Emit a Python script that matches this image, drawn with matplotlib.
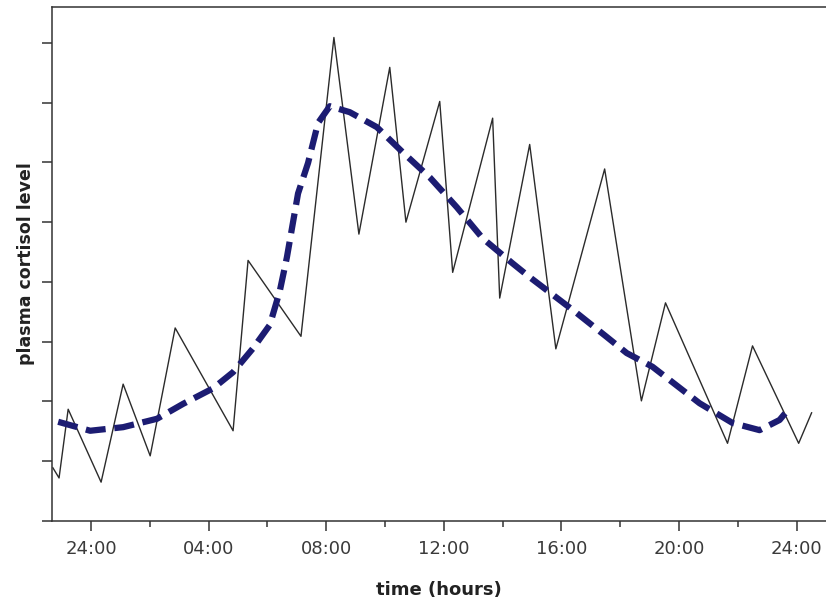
import matplotlib
matplotlib.use("Agg")
import matplotlib.pyplot as plt

# Pulsatile (raw) cortisol series: hours relative to midnight, level
pulse_hours = [-1.30, -1.09, -0.78, 0.34, 1.09, 2.01, 2.86, 4.83, 5.34, 7.14,
               8.26, 9.11, 10.16, 10.71, 11.86, 12.30, 13.66, 13.90, 14.92, 15.81,
               17.47, 18.72, 19.54, 21.65, 22.50, 24.07, 24.51]
pulse_level = [0.89, 0.72, 1.87, 0.65, 2.29, 1.09, 3.23, 1.51, 4.36, 3.09,
               8.09, 4.80, 7.59, 5.00, 7.02, 4.16, 6.74, 3.73, 6.30, 2.88,
               5.89, 2.01, 3.65, 1.30, 2.93, 1.30, 1.81]

# Smoothed circadian trend
trend_hours = [-1.12, -0.03, 1.09, 2.24, 3.13, 4.15, 4.83, 5.51, 6.08, 6.42,
               6.66, 7.04, 7.38, 7.72, 8.12, 8.80, 9.72, 10.60, 11.52, 12.44,
               13.32, 14.34, 14.92, 16.52, 17.54, 18.22, 19.10, 20.70, 21.82,
               22.74, 23.42, 23.76]
trend_level = [1.66, 1.51, 1.57, 1.71, 1.96, 2.22, 2.49, 2.89, 3.28, 3.85,
               4.41, 5.48, 5.99, 6.66, 6.94, 6.84, 6.59, 6.17, 5.75, 5.25,
               4.73, 4.31, 4.08, 3.48, 3.08, 2.81, 2.58, 1.97, 1.64,
               1.52, 1.69, 1.89]

tick_hours = [0, 4, 8, 12, 16, 20, 24]
tick_labels = ["24:00", "04:00", "08:00", "12:00", "16:00", "20:00", "24:00"]
minor_hours = [2, 6, 10, 14, 18, 22]
y_ticks = [0, 1, 2, 3, 4, 5, 6, 7, 8]

fig = plt.figure(figsize=(8.26, 5.98), dpi=100)
ax = fig.add_axes([52/826, 1-521/598, 1-52/826, (521-7)/598])

ax.plot(pulse_hours, pulse_level, color="#2b2b2b", lw=1.0, zorder=2)
ax.plot(trend_hours, trend_level, color="#1c1c72", lw=4.5,
        dashes=(3.2, 1.4), zorder=3, solid_capstyle="butt")

ax.set_xlim(-1.33, 25.0)
ax.set_ylim(0, 8.6)

ax.set_xticks(tick_hours)
ax.set_xticklabels(tick_labels)
ax.set_xticks(minor_hours, minor=True)
ax.set_yticks(y_ticks)
ax.set_yticklabels([])

ax.tick_params(axis="x", which="major", length=7.5, width=1.1, color="#333333",
               labelsize=13, labelcolor="#3a3a3a", pad=6)
ax.tick_params(axis="x", which="minor", length=4, width=1.1, color="#333333")
ax.tick_params(axis="y", which="major", length=7.5, width=1.1, color="#333333")

for side in ["left", "top", "bottom"]:
    ax.spines[side].set_color("#333333")
    ax.spines[side].set_linewidth(1.1)
ax.spines["right"].set_visible(False)

ax.set_xlabel("time (hours)", fontsize=13, fontweight="bold", color="#222222", labelpad=17)
ax.set_ylabel("plasma cortisol level", fontsize=12.5, fontweight="bold", color="#222222", labelpad=1)

fig.savefig("out.png", dpi=100)
